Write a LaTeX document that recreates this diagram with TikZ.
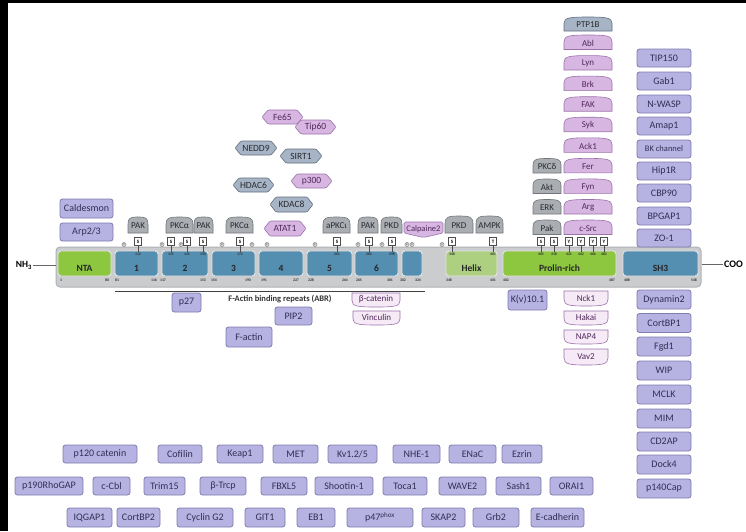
\documentclass[tikz,border=0pt]{standalone}
\usepackage{fontspec}
\setmainfont{Carlito}
\usetikzlibrary{calc}
\definecolor{pfill}{RGB}{182,179,226}
\definecolor{pdraw}{RGB}{128,125,175}
\definecolor{pcol}{RGB}{50,47,85}
\definecolor{kfill}{RGB}{216,182,226}
\definecolor{kdraw}{RGB}{155,115,170}
\definecolor{kcol}{RGB}{80,40,90}
\definecolor{gfill}{RGB}{170,174,178}
\definecolor{gdraw}{RGB}{115,119,123}
\definecolor{gcol}{RGB}{40,43,47}
\definecolor{lfill}{RGB}{246,234,246}
\definecolor{hfill}{RGB}{166,180,198}
\definecolor{hdraw}{RGB}{98,110,128}
\definecolor{dblue}{RGB}{84,142,176}
\definecolor{dgreen}{RGB}{141,198,63}
\definecolor{dlgreen}{RGB}{172,208,128}
\definecolor{barfill}{RGB}{202,204,206}
\definecolor{bardraw}{RGB}{175,178,181}
\tikzset{
 pbox/.style={draw=pdraw, fill=pfill, rounded corners=2.5pt, line width=0.8pt, text=pcol, font=\fontsize{10}{11}\selectfont, inner sep=0pt},
 gshape/.style={draw=gdraw, fill=gfill, line width=0.6pt},
 gtext/.style={text=gcol, font=\fontsize{9}{10}\selectfont, inner sep=0pt},
 kshape/.style={draw=kdraw, fill=kfill, line width=0.6pt},
 ktext/.style={text=kcol, font=\fontsize{9}{10}\selectfont, inner sep=0pt},
 lshape/.style={draw=kdraw, fill=lfill, line width=0.6pt},
 ltext/.style={text=kcol, font=\fontsize{9}{10}\selectfont, inner sep=0pt},
 bshape/.style={draw=hdraw, fill=hfill, line width=0.6pt},
 btext/.style={text=gcol, font=\fontsize{9}{10}\selectfont, inner sep=0pt},
 hexfont/.style={font=\fontsize{9.5}{10}\selectfont},
 bar/.style={draw=bardraw, fill=barfill, rounded corners=4pt, line width=1pt},
 dom/.style={draw=white!80!gray, rounded corners=3pt, line width=0.9pt, minimum height=25pt, inner sep=0pt},
 domlbl/.style={text=black!85, font=\bfseries\fontsize{9.5}{10}\selectfont, inner sep=0pt},
 sbox/.style={draw=black!70, fill=white, line width=0.5pt, minimum width=7pt, minimum height=8pt, inner sep=0pt, font=\bfseries\fontsize{5}{5}\selectfont},
 stem/.style={draw=black!70, line width=0.6pt},
 tinynum/.style={font=\bfseries\fontsize{3.8}{4}\selectfont, text=black!80, inner sep=0pt},
 phos/.style={circle, draw=black!50, fill=black!15, line width=0.4pt, minimum size=4.2pt, inner sep=0pt, font=\fontsize{2.5}{3}\selectfont},
}
\newcommand\pb[6]{\node[pbox, minimum width={(#4-#2)*1pt}, minimum height={(#5-#3)*1pt}] (#1) at ({(#2+#4)/2},{(#3+#5)/2}) {#6};}
\newcommand\tomb[7]{%
 \draw[#6shape] (#2,#5) -- (#2,{#3+0.45*(#5-#3)}) .. controls (#2,{#3+0.05*(#5-#3)}) and ({#2+0.12*(#4-#2)},#3) .. ({(#2+#4)/2},#3) .. controls ({#4-0.12*(#4-#2)},#3) and (#4,{#3+0.05*(#5-#3)}) .. (#4,{#3+0.45*(#5-#3)}) -- (#4,#5) -- cycle;
 \node[#6text] (#1) at ({(#2+#4)/2},{(#3+#5)/2+1}) {#7};}
\newcommand\itomb[7]{%
 \draw[#6shape] (#2,#3) -- (#4,#3) -- (#4,{#3+0.55*(#5-#3)}) .. controls (#4,{#5-0.05*(#5-#3)}) and ({#4-0.12*(#4-#2)},#5) .. ({(#2+#4)/2},#5) .. controls ({#2+0.12*(#4-#2)},#5) and (#2,{#5-0.05*(#5-#3)}) .. (#2,{#3+0.55*(#5-#3)}) -- cycle;
 \node[#6text] (#1) at ({(#2+#4)/2},{(#3+#5)/2-0.5}) {#7};}
\newcommand\hexa[7]{%
 \draw[#6shape, rounded corners=1pt] (#2,{(#3+#5)/2}) -- ({#2+6},#3) -- ({#4-6},#3) -- (#4,{(#3+#5)/2}) -- ({#4-6},#5) -- ({#2+6},#5) -- cycle;
 \node[#6text, hexfont] (#1) at ({(#2+#4)/2},{(#3+#5)/2}) {#7};}
\newcommand\dom[5]{%
 \node[dom, fill=#4, minimum width={(#3-#2)*1pt}] (#1) at ({(#2+#3)/2},263.5) {};
 \node[domlbl] (#1l) at ({(#2+#3)/2},268) {#5};}
\newcommand\site[4]{%
 \draw[stem] (#2,245.5) -- (#2,252);
 \node[sbox] (#1) at (#2,241.5) {#3};
 \node[tinynum] (#1n) at (#2,254.3) {#4};}
\begin{document}
\begin{tikzpicture}[x=1pt,y=-1pt]
\useasboundingbox (0,0) rectangle (746,531);
\fill[white] (0,0) rectangle (746,531);
\fill[black] (0,0) rectangle (8,531);
\fill[black] (0,0) rectangle (746,3);

% ---------- protein bar ----------
\node[bar, minimum width=645pt, minimum height=40pt] (bar) at (378.5,267) {};
\dom{nta}{58}{111}{dgreen}{NTA}
\dom{d1}{115}{158}{dblue}{1}
\dom{d2}{162}{208}{dblue}{2}
\dom{d3}{212}{255}{dblue}{3}
\dom{d4}{259}{303}{dblue}{4}
\dom{d5}{307}{352}{dblue}{5}
\dom{d6}{355}{398}{dblue}{6}
\dom{d7}{402}{422}{dblue}{}
\dom{helix}{446}{497}{dlgreen}{Helix}
\dom{pro}{503}{616}{dgreen}{Prolin-rich}
\dom{sh3}{623}{698}{dblue}{SH3}

\node[font=\bfseries\fontsize{9.5}{10}\selectfont, inner sep=1pt] (nh3) at (24,265.5) {NH\textsubscript{3}};
\draw[black!60, line width=0.7pt] (nh3.east) -- (nh3.east -| bar.west);
\node[font=\bfseries\fontsize{10}{11}\selectfont, inner sep=1pt, anchor=west] (coo) at (723,264) {COO};
\draw[black!60, line width=0.7pt] (coo.west -| bar.east) -- (coo.west);

\foreach \x/\t [count=\i] in {61/1,107/80,117/81,154/116,163/117,203/153,214/154,248/190,264/191,296/227,311/228,345/264,359/265,390/301,403/302,418/324,449/348,493/401,506/402,612/487,627/488,694/548}
 {\node[tinynum] (r\i) at (\x,280.5) {\t};}

% ---------- phosphorylation sites ----------
\site{s112}{138}{S}{112}
\site{s135}{171}{S}{135}
\site{s145}{187}{S}{145}
\site{s150}{203}{S}{150}
\site{s172}{240}{S}{172}
\site{s261}{337}{S}{261}
\site{s282}{369}{S}{282}
\site{s298}{392}{S}{298}
\site{s348}{452}{S}{348}
\site{t401}{493}{T}{401}
\site{s405}{541}{S}{405}
\site{s418}{554}{S}{418}
\site{y421}{569}{Y}{421}
\site{y442}{581}{Y}{442}
\site{y466}{593}{Y}{466}
\site{y482}{604}{Y}{482}
\foreach \x [count=\i] in {124,162,181,222,252,267,315,358,382,407,412,442}
 {\node[phos] (ph\i) at (\x,244.5) {P};}

% ---------- kinases over the bar ----------
\tomb{pak1}{128}{217}{148}{233}{g}{PAK}
\tomb{pkca1}{166}{217}{193}{233}{g}{PKCα}
\tomb{pak2}{194}{217}{213}{233}{g}{PAK}
\tomb{pkca2}{226}{217}{253}{233}{g}{PKCα}
\tomb{apkc}{323}{217}{350}{233}{g}{aPKCι}
\tomb{pak3}{358}{217}{378}{233}{g}{PAK}
\tomb{pkd1}{381}{217}{402}{233}{g}{PKD}
\draw[kshape, rounded corners=1.5pt] (404,222) -- (443,222) -- (443,233) -- (423.5,237.5) -- (404,233) -- cycle;
\node[ktext, font=\fontsize{8.5}{9}\selectfont] (calp) at (423.5,229) {Calpaine2};
\tomb{pkd2}{445}{216}{473}{233}{g}{PKD}
\tomb{ampk}{476}{216}{503}{233}{g}{AMPK}

% gray column
\tomb{pkcd}{533}{158.5}{561}{173}{g}{PKCδ}
\tomb{akt}{533}{179}{561}{193.5}{g}{Akt}
\tomb{erk}{533}{199.5}{561}{214}{g}{ERK}
\tomb{pak4}{533}{220}{561}{234.5}{g}{Pak}

% pink column
\tomb{ptp}{564}{17}{612}{31}{b}{PTP1B}
\tomb{abl}{564}{35}{612}{49.5}{k}{Abl}
\tomb{lyn}{564}{55.6}{612}{70}{k}{Lyn}
\tomb{brk}{564}{76.1}{612}{90.6}{k}{Brk}
\tomb{fak}{564}{96.7}{612}{111.2}{k}{FAK}
\tomb{syk}{564}{117.2}{612}{131.7}{k}{Syk}
\tomb{ack}{564}{137.8}{612}{152.3}{k}{Ack1}
\tomb{fer}{564}{158.4}{612}{172.9}{k}{Fer}
\tomb{fyn}{564}{178.9}{612}{193.4}{k}{Fyn}
\tomb{arg}{564}{199.5}{612}{214}{k}{Arg}
\tomb{csrc}{564}{220}{612}{234.5}{k}{c-Src}

% far right column
\pb{tip150}{637}{49}{691}{67}{TIP150}
\pb{gab1}{637}{72}{691}{90}{Gab1}
\pb{nwasp}{637}{95}{691}{113}{N-WASP}
\pb{amap1}{637}{117}{691}{135}{Amap1}
\pb{bk}{637}{140}{691}{158}{\fontsize{8.5}{9}\selectfont BK channel}
\pb{hip1r}{637}{162}{691}{180}{Hip1R}
\pb{cbp90}{637}{184}{691}{202}{CBP90}
\pb{bpgap}{637}{207}{691}{225}{BPGAP1}
\pb{zo1}{637}{229}{691}{247}{ZO-1}

% left boxes
\pb{cald}{60}{199}{113}{218}{Caldesmon}
\pb{arp}{60}{223}{113}{241}{Arp2/3}

% hexagons
\hexa{fe65}{262}{110}{303}{124}{k}{Fe65}
\hexa{tip60}{295}{120}{336}{134}{k}{Tip60}
\hexa{nedd9}{235}{141}{277}{155}{b}{NEDD9}
\hexa{sirt1}{280}{149}{322}{163}{b}{SIRT1}
\hexa{hdac6}{233}{178}{274}{192}{b}{HDAC6}
\hexa{p300}{291}{174}{332}{188}{k}{p300}
\hexa{kdac8}{270}{197}{313}{212}{b}{KDAC8}
\hexa{atat1}{264}{221}{306}{236}{k}{ATAT1}

% ---------- below the bar ----------
\coordinate (abrL) at (115,291);
\coordinate (abrR) at (425,291);
\draw[black!75, line width=0.8pt] (abrL) -- (abrR);
\node[font=\bfseries\fontsize{8.5}{9}\selectfont, text=black!80, inner sep=0pt] (abr) at (280,299) {F-Actin binding repeats (ABR)};
\pb{p27}{172}{293}{201}{312}{p27}
\pb{pip2}{275}{307}{312}{325}{PIP2}
\pb{factin}{226}{327}{272}{347}{F-actin}
\itomb{bcat}{352}{293}{400}{307}{l}{β-catenin}
\itomb{vinc}{353}{311}{400}{325}{l}{Vinculin}
\pb{kv101}{508}{290}{547}{310}{K(v)10.1}
\itomb{nck1}{564}{291}{608}{306}{l}{Nck1}
\itomb{hakai}{564}{311}{608}{325}{l}{Hakai}
\itomb{nap4}{564}{330}{608}{344}{l}{NAP4}
\itomb{vav2}{564}{349}{608}{365}{l}{Vav2}

% SH3 column
\pb{dyn2}{637}{290}{691}{309}{Dynamin2}
\pb{cortbp1}{637}{313.5}{691}{332.5}{CortBP1}
\pb{fgd1}{637}{337}{691}{356}{Fgd1}
\pb{wip}{637}{361}{691}{380}{WIP}
\pb{mclk}{637}{385}{691}{404}{MCLK}
\pb{mim}{637}{409}{691}{428}{MIM}
\pb{cd2ap}{637}{432}{691}{451}{CD2AP}
\pb{dock4}{637}{455}{691}{474}{Dock4}
\pb{p140}{637}{479}{691}{498}{p140Cap}

% bottom rows
\pb{p120}{63}{445}{137}{463}{p120 catenin}
\pb{cofilin}{158}{445}{202}{463}{Cofilin}
\pb{keap1}{217}{445}{263}{463}{Keap1}
\pb{met}{273}{445}{318}{463}{MET}
\pb{kv12}{328}{445}{377}{463}{Kv1.2/5}
\pb{nhe1}{393}{445}{440}{463}{NHE-1}
\pb{enac}{449}{445}{496}{463}{ENaC}
\pb{ezrin}{502}{445}{542}{463}{Ezrin}

\pb{p190}{15}{477}{83}{495}{p190RhoGAP}
\pb{ccbl}{93}{477}{130}{495}{c-Cbl}
\pb{trim15}{144}{477}{185}{495}{Trim15}
\pb{btrcp}{200}{477}{246}{495}{β-Trcp}
\pb{fbxl5}{261}{477}{307}{495}{FBXL5}
\pb{shootin}{315}{477}{373}{495}{Shootin-1}
\pb{toca1}{383}{477}{427}{495}{Toca1}
\pb{wave2}{439}{477}{486}{495}{WAVE2}
\pb{sash1}{496}{477}{541}{495}{Sash1}
\pb{orai1}{550}{477}{593}{495}{ORAI1}

\pb{iqgap1}{67}{508}{112}{527}{IQGAP1}
\pb{cortbp2}{117}{508}{160}{527}{CortBP2}
\pb{cycg2}{177}{508}{233}{527}{Cyclin G2}
\pb{git1}{245}{508}{285}{527}{GIT1}
\pb{eb1}{297}{508}{335}{527}{EB1}
\pb{p47}{347}{508}{413}{527}{p47\textsuperscript{phox}}
\pb{skap2}{422}{508}{465}{527}{SKAP2}
\pb{grb2}{473}{508}{519}{527}{Grb2}
\pb{ecad}{531}{508}{584}{527}{E-cadherin}
\end{tikzpicture}
\end{document}
